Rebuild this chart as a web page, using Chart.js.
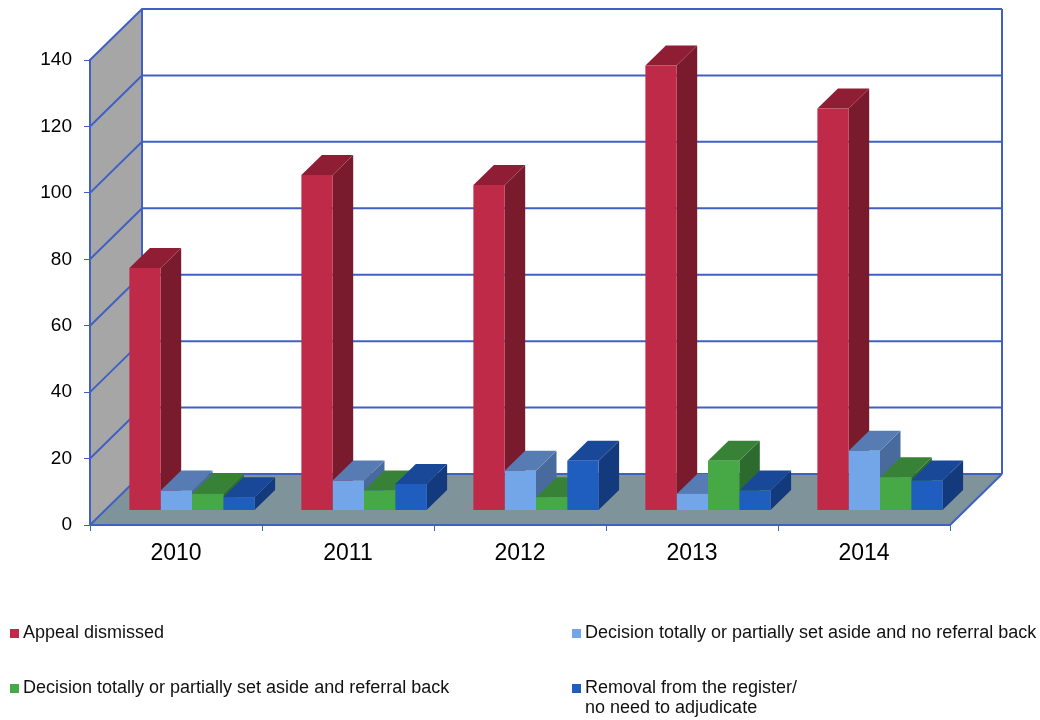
<!DOCTYPE html>
<html>
<head>
<meta charset="utf-8">
<script src="https://cdn.jsdelivr.net/npm/chart.js@4/dist/chart.umd.min.js"></script>
<style>
  html, body { margin: 0; padding: 0; background: #fff; }
  #wrap { position: relative; width: 1040px; height: 720px; font-family: 'Liberation Sans', Arial, sans-serif; }
  canvas { position: absolute; left: 0; top: 0; }
  .lg { position: absolute; font-size: 18px; line-height: 20px; color: #111; white-space: nowrap; }
  .lg .m { position: absolute; width: 9px; height: 9px; left: -13px; top: 7px; }
</style>
</head>
<body>
<div id="wrap">
  <canvas id="c" width="1040" height="720"></canvas>
  <div id="legend"></div>
</div>
<script>
// ---- data ----
const years = ['2010', '2011', '2012', '2013', '2014'];
const appealDismissed = [73, 101, 98, 134, 121];
const setAsideNoReferral = [6, 9, 12, 5, 18];
const setAsideReferral = [5, 6, 4, 15, 10];
const removalNoNeed = [4, 8, 15, 6, 9];
const seriesNames = [
  'Appeal dismissed',
  'Decision totally or partially set aside and no referral back',
  'Decision totally or partially set aside and referral back',
  'Removal from the register/\nno need to adjudicate'
];
const yTicks = [0, 20, 40, 60, 80, 100, 120, 140];

// ---- styles ----
const frontColors = ['#bf2a48', '#72a6e9', '#46a946', '#1f5ebf'];
const topColors   = ['#8f1d34', '#577cb4', '#378236', '#184897'];
const sideColors  = ['#7a1a2d', '#486a9c', '#2c6b2d', '#133a7c'];
const BLUE = '#4060c2';
const WALL_DX = 52, WALL_DY = 51;     // depth of the whole box
const PLANE_DX = 16, PLANE_DY = 14.5; // offset of the bar row
const BAR_DX = 20.5, BAR_DY = 20;     // depth of each bar

function poly(ctx, pts, color) {
  ctx.fillStyle = color;
  ctx.beginPath();
  pts.forEach((p, k) => k ? ctx.lineTo(p[0], p[1]) : ctx.moveTo(p[0], p[1]));
  ctx.closePath();
  ctx.fill();
}

const threeD = {
  id: 'threeD',
  beforeDatasetDraw(chart) {
    chart.ctx.save();
    chart.ctx.translate(PLANE_DX, -PLANE_DY);
  },
  afterDatasetDraw(chart) {
    chart.ctx.restore();
  },
  afterDatasetsDraw(chart) {
    const { ctx, chartArea: a, scales: { y } } = chart;
    const metas = chart.getSortedVisibleDatasetMetas();
    ctx.save();
    // everything below is painted BEHIND what is already on the canvas
    ctx.globalCompositeOperation = 'destination-over';
    // bar extrusions, front-most first
    ctx.save();
    ctx.translate(PLANE_DX, -PLANE_DY);
    for (let i = metas.length - 1; i >= 0; i--) {
      const di = metas[i].index;
      metas[i].data.forEach(el => {
        const l = el.x - el.width / 2, r = el.x + el.width / 2, t = el.y, b = el.base;
        poly(ctx, [[l, t], [l + BAR_DX, t - BAR_DY], [r + BAR_DX, t - BAR_DY], [r, t]], topColors[di]);
        poly(ctx, [[r, t], [r + BAR_DX, t - BAR_DY], [r + BAR_DX, b - BAR_DY], [r, b]], sideColors[di]);
      });
    }
    ctx.restore();
    // walls grid lines
    const y0 = y.getPixelForValue(0), yT = y.getPixelForValue(140);
    ctx.strokeStyle = BLUE; ctx.lineWidth = 2;
    ctx.beginPath();
    y.ticks.forEach(t => {
      const py = y.getPixelForValue(t.value);
      ctx.moveTo(a.left, py);
      ctx.lineTo(a.left + WALL_DX, py - WALL_DY);
      ctx.lineTo(a.right + WALL_DX, py - WALL_DY);
    });
    ctx.moveTo(a.left + WALL_DX, yT - WALL_DY); ctx.lineTo(a.left + WALL_DX, y0 - WALL_DY);
    ctx.moveTo(a.right + WALL_DX, yT - WALL_DY); ctx.lineTo(a.right + WALL_DX, y0 - WALL_DY);
    ctx.moveTo(a.right, y0); ctx.lineTo(a.right + WALL_DX, y0 - WALL_DY);
    ctx.stroke();
    // floor and left wall
    poly(ctx, [[a.left, y0], [a.right, y0], [a.right + WALL_DX, y0 - WALL_DY], [a.left + WALL_DX, y0 - WALL_DY]], '#7f939b');
    poly(ctx, [[a.left, yT], [a.left + WALL_DX, yT - WALL_DY], [a.left + WALL_DX, y0 - WALL_DY], [a.left, y0]], '#a6a6a6');
    ctx.restore();
  }
};

const seriesValues = [appealDismissed, setAsideNoReferral, setAsideReferral, removalNoNeed];

new Chart(document.getElementById('c'), {
  type: 'bar',
  data: {
    labels: years,
    datasets: seriesValues.map((vals, i) => ({
      label: seriesNames[i],
      data: vals,
      backgroundColor: frontColors[i],
      borderWidth: 0,
      clip: false,
      categoryPercentage: 0.728,
      barPercentage: 1.0
    }))
  },
  options: {
    responsive: false,
    animation: false,
    layout: { padding: { left: 0, top: 60, right: 90, bottom: 0 } },
    plugins: { legend: { display: false }, tooltip: { enabled: false } },
    scales: {
      x: {
        grid: { display: true, drawOnChartArea: false, drawTicks: true, tickLength: 6, color: BLUE, lineWidth: 1, offset: true },
        border: { display: true, color: BLUE, width: 2 },
        ticks: { color: '#000', font: { family: 'Liberation Sans', size: 23 }, padding: 9, maxRotation: 0 },
        afterFit(s) { s.height = 195; }
      },
      y: {
        min: 0, max: 140,
        afterBuildTicks(s) { s.ticks = yTicks.map(v => ({ value: v })); },
        grid: { display: true, drawOnChartArea: false, drawTicks: true, tickLength: 6, color: BLUE, lineWidth: 1 },
        border: { display: true, color: BLUE, width: 2 },
        ticks: { color: '#000', font: { family: 'Liberation Sans', size: 19 }, padding: 12 },
        afterFit(s) { s.width = 90; }
      }
    }
  },
  plugins: [threeD]
});

// ---- legend (HTML text) ----
const legendPos = [[23, 622], [585, 622], [23, 677], [585, 677]];
const lg = document.getElementById('legend');
seriesNames.forEach((name, i) => {
  const d = document.createElement('div');
  d.className = 'lg';
  d.style.left = legendPos[i][0] + 'px';
  d.style.top = legendPos[i][1] + 'px';
  const m = document.createElement('span');
  m.className = 'm';
  m.style.background = frontColors[i];
  d.appendChild(m);
  name.split('\n').forEach((line, k) => {
    if (k) d.appendChild(document.createElement('br'));
    d.appendChild(document.createTextNode(line));
  });
  lg.appendChild(d);
});
</script>
</body>
</html>
